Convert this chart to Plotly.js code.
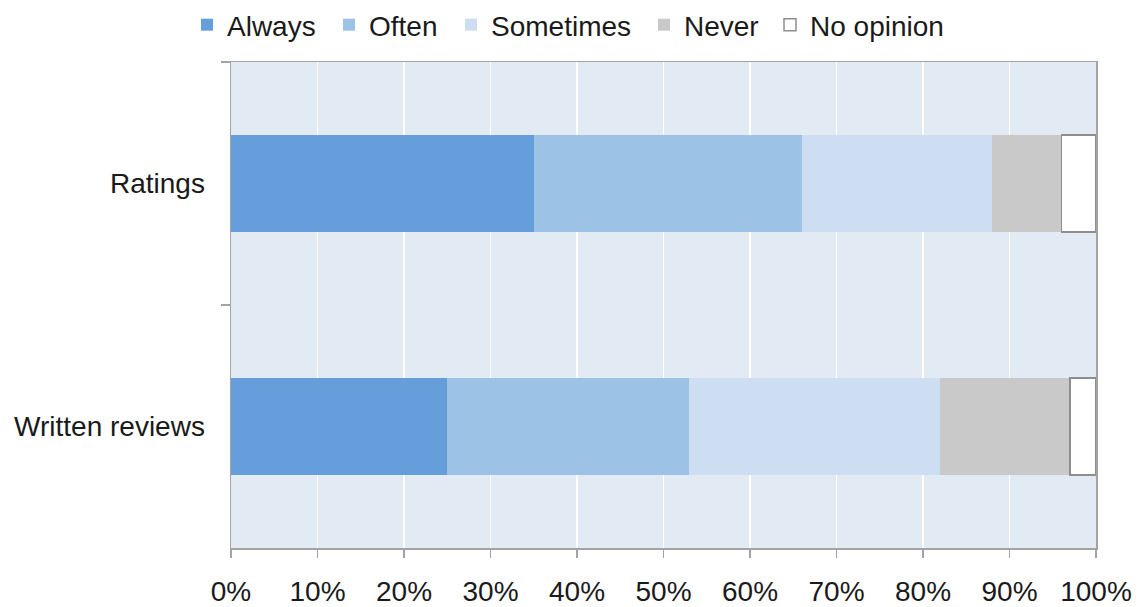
<!DOCTYPE html>
<html>
<head>
<meta charset="utf-8">
<script src="https://cdn.plot.ly/plotly-3.0.1.min.js"></script>
<style>
  html, body { margin: 0; padding: 0; background: #ffffff; }
  #chart { width: 1138px; height: 607px; }
</style>
</head>
<body>
<div id="chart"></div>
<script>
// Survey: how often respondents use ratings / written reviews
const categories = ['Ratings', 'Written reviews'];
const seriesNames = ['Always', 'Often', 'Sometimes', 'Never', 'No opinion'];
const always    = [0.35, 0.25];
const often     = [0.31, 0.28];
const sometimes = [0.22, 0.29];
const never     = [0.08, 0.15];
const noOpinion = [0.04, 0.03];
const xTickVals = [0, 0.1, 0.2, 0.3, 0.4, 0.5, 0.6, 0.7, 0.8, 0.9, 1.0];
const xTickText = ['0%', '10%', '20%', '30%', '40%', '50%', '60%', '70%', '80%', '90%', '100%'];

const seriesValues = [always, often, sometimes, never, noOpinion];
const fills = ['#669ddb', '#9cc2e6', '#cddef3', '#c9c9c9', '#ffffff'];
const edges = [null, null, null, null, '#8e8e8e'];

// each legend entry gets its own legend box so the entries can be spaced freely
const legendIds = ['legend', 'legend2', 'legend3', 'legend4', 'legend5'];
const legendLeft = [187, 329, 451, 644, 770]; // px from the left edge of the page

const W = 1138, H = 607;
const fontFamily = 'Liberation Sans, Arial, sans-serif';
const textColor = '#1a1a1a';

const traces = seriesNames.map((name, i) => ({
  type: 'bar',
  orientation: 'h',
  name: name,
  legend: legendIds[i],
  y: categories,
  x: seriesValues[i],
  marker: {
    color: fills[i],
    line: edges[i] ? { color: edges[i], width: 1.5 } : { width: 0 }
  },
  hoverinfo: 'name+x'
}));

const layout = {
  width: W,
  height: H,
  margin: { l: 231, r: 42, t: 62, b: 59 },
  paper_bgcolor: '#ffffff',
  plot_bgcolor: '#e2eaf3',
  barmode: 'stack',
  bargap: 0.6,
  font: { family: fontFamily, size: 28, color: textColor },
  showlegend: true,
  xaxis: {
    range: [0, 1],
    tickvals: xTickVals,
    ticktext: xTickText,
    showgrid: true,
    gridcolor: '#ffffff',
    gridwidth: 1.5,
    zeroline: false,
    showline: true,
    linecolor: '#a3a3a3',
    linewidth: 1.5,
    mirror: true,
    ticks: 'outside',
    ticklen: 8,
    tickcolor: '#a3a3a3',
    tickwidth: 1.5,
    ticklabelstandoff: 10,
    tickfont: { family: fontFamily, size: 28, color: textColor },
    fixedrange: true
  },
  yaxis: {
    type: 'category',
    categoryorder: 'array',
    categoryarray: categories,
    autorange: 'reversed',
    showgrid: false,
    zeroline: false,
    showline: true,
    linecolor: '#a3a3a3',
    linewidth: 1.5,
    mirror: true,
    ticks: 'outside',
    tickson: 'boundaries',
    ticklen: 9,
    tickcolor: '#a3a3a3',
    tickwidth: 1.5,
    ticklabelstandoff: 19,
    tickfont: { family: fontFamily, size: 28, color: textColor },
    fixedrange: true
  }
};

legendIds.forEach((id, i) => {
  layout[id] = {
    orientation: 'h',
    xref: 'container', yref: 'container',
    x: legendLeft[i] / W, y: 1,
    xanchor: 'left', yanchor: 'top',
    font: { family: fontFamily, size: 28, color: textColor },
    itemwidth: 30,
    bgcolor: 'rgba(0,0,0,0)'
  };
});

Plotly.newPlot('chart', traces, layout, { displayModeBar: false, staticPlot: true });
</script>
</body>
</html>
